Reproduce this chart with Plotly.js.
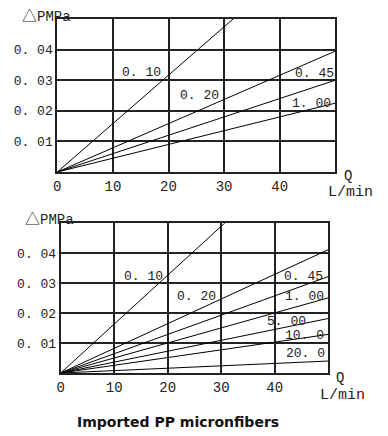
<!DOCTYPE html>
<html>
<head>
<meta charset="utf-8">
<script src="https://cdn.plot.ly/plotly-3.0.1.min.js"></script>
<style>html,body{margin:0;padding:0;background:#fff;}#chart{width:388px;height:436px;}</style>
</head>
<body>
<div id="chart"></div>
<script>
// Flow rate Q (L/min) at the two ends of each straight line
const flowQ = [0, 50];

// Top chart: pressure drop (MPa) at Q = 50 for each filter rating
const topRatings = ['0. 10', '0. 20', '0. 45', '1. 00'];
const topDpAt50 = [0.0791, 0.0395, 0.0300, 0.0225];
const topLabelQ = [15.2, 25.6, 46.3, 45.8];
const topLabelDp = [0.0326, 0.0249, 0.0321, 0.0225];

// Bottom chart: pressure drop (MPa) at Q = 50 for each filter rating
const botRatings = ['0. 10', '0. 20', '0. 45', '1. 00', '5. 00', '10. 0', '20. 0'];
const botDpAt50 = [0.0817, 0.0412, 0.0322, 0.0251, 0.0182, 0.0129, 0.0040];
const botLabelQ = [15.4, 25.3, 45.3, 45.6, 42.1, 45.5, 45.7];
const botLabelDp = [0.0323, 0.0254, 0.0323, 0.0254, 0.0171, 0.0124, 0.0066];

// Axis ticks
const xTickVals = [0, 10, 20, 30, 40];
const xTickText = ['0', '10', '20', '30', '40'];
const yTickVals = [0.01, 0.02, 0.03, 0.04];
const yTickText = ['0. 01', '0. 02', '0. 03', '0. 04'];

const yLabel = '<span style="font-family:\'Noto Sans CJK SC\';font-size:15px">△</span>PMPa';
const xLabelQ = 'Q';
const xLabelUnit = 'L/min';
const chartTitle = 'Imported PP micronfibers';

const W = 388, H = 436;
const px = x => x / W;
const py = y => 1 - y / H;
const mono = 'Liberation Mono, DejaVu Sans Mono, monospace';

const traces = [];
topDpAt50.forEach((v, i) => {
  traces.push({x: flowQ, y: [0, v], xaxis: 'x', yaxis: 'y', mode: 'lines',
    line: {color: '#000', width: 1}, hoverinfo: 'none', showlegend: false, name: topRatings[i]});
});
botDpAt50.forEach((v, i) => {
  traces.push({x: flowQ, y: [0, v], xaxis: 'x2', yaxis: 'y2', mode: 'lines',
    line: {color: '#000', width: 1}, hoverinfo: 'none', showlegend: false, name: botRatings[i]});
});

function xAxis(domain, anchor) {
  return {domain: domain, anchor: anchor, range: [0, 50], tickvals: xTickVals, ticktext: xTickText,
    showgrid: true, gridcolor: '#222', gridwidth: 2, zeroline: false,
    showline: true, mirror: true, linecolor: '#222', linewidth: 2, ticks: '',
    tickfont: {family: mono, size: 14, color: '#222'}, fixedrange: true, automargin: false};
}
function yAxis(domain, anchor) {
  return {domain: domain, anchor: anchor, range: [0, 0.05], tickvals: yTickVals, ticktext: yTickText,
    showgrid: true, gridcolor: '#222', gridwidth: 2, zeroline: false,
    showline: true, mirror: true, linecolor: '#222', linewidth: 2, ticks: '',
    tickfont: {family: mono, size: 13, color: '#222'}, fixedrange: true, automargin: false};
}

const annotations = [];
topRatings.forEach((t, i) => annotations.push({xref: 'x', yref: 'y', x: topLabelQ[i], y: topLabelDp[i],
  text: t, showarrow: false, font: {family: mono, size: 13, color: '#222'}}));
botRatings.forEach((t, i) => annotations.push({xref: 'x2', yref: 'y2', x: botLabelQ[i], y: botLabelDp[i],
  text: t, showarrow: false, font: {family: mono, size: 13, color: '#222'}}));

const paperText = (text, x, y, size, extra) => Object.assign({xref: 'paper', yref: 'paper', x: px(x), y: py(y),
  xanchor: 'center', yanchor: 'middle', text: text, showarrow: false,
  font: {family: mono, size: size, color: '#222'}}, extra || {});

annotations.push(paperText(yLabel, 46, 14, 14));
annotations.push(paperText(xLabelQ, 348, 176, 14));
annotations.push(paperText(xLabelUnit, 350, 193, 15));
annotations.push(paperText(yLabel, 50, 217, 14));
annotations.push(paperText(xLabelQ, 340, 378, 14));
annotations.push(paperText(xLabelUnit, 342, 395, 15));
annotations.push(paperText('<b>' + chartTitle + '</b>', 178, 422, 14,
  {font: {family: 'DejaVu Sans, Verdana, sans-serif', size: 14, color: '#111'}}));

const layout = {
  width: W, height: H,
  margin: {l: 0, r: 0, t: 0, b: 0},
  paper_bgcolor: '#fff', plot_bgcolor: '#fff',
  showlegend: false,
  xaxis: xAxis([px(57.3), px(335.3)], 'y'),
  yaxis: yAxis([py(172), py(19)], 'x'),
  xaxis2: xAxis([px(60.7), px(328.3)], 'y2'),
  yaxis2: yAxis([py(373), py(223.3)], 'x2'),
  annotations: annotations
};

Plotly.newPlot('chart', traces, layout, {displayModeBar: false, staticPlot: true});
</script>
</body>
</html>
